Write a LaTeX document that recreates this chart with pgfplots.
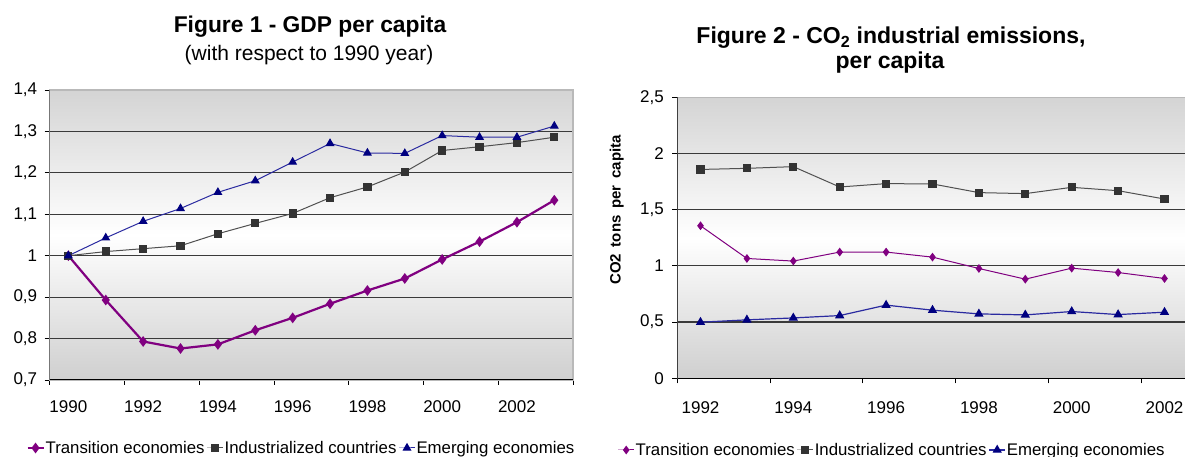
\documentclass[border=0pt]{standalone}
\usepackage{fontspec}
\setmainfont{Liberation Sans}
\usepackage{pgfplots}
\pgfplotsset{compat=1.18}
\definecolor{trans}{HTML}{800080}
\definecolor{indm}{HTML}{333333}
\definecolor{indl}{HTML}{505050}
\definecolor{emm}{HTML}{000080}
\definecolor{eml}{HTML}{2A2AA0}
\definecolor{bgtop}{HTML}{D4D4D4}
\definecolor{bgbot}{HTML}{CFCFCF}
\definecolor{gridc}{HTML}{3A3A3A}
\pgfplotsset{
  mystyle/.style={
    scale only axis, anchor=south west,
    axis line style={draw=gray!55, line width=1.4pt},
    axis background/.style={top color=bgtop, bottom color=bgbot, middle color=white},
    xtick pos=bottom, ytick pos=left, tick align=outside,
    major tick length=5pt,
    tick style={black, line width=0.9pt},
    ymajorgrids, major grid style={gridc, line width=1.2pt},
    tick label style={font=\fontsize{17}{19}\selectfont},
    /pgf/number format/assume math mode=true,
    yticklabel style={/pgf/number format/fixed, /pgf/number format/use comma, /pgf/number format/precision=1},
    legend style={draw=none, fill=none, legend columns=3, font=\fontsize{16.8}{19}\selectfont,
      anchor=center, inner sep=0pt, /tikz/every even column/.append style={column sep=1pt},
      nodes={inner sep=1pt}},
    legend image code/.code={\draw[mark repeat=2,mark phase=2] plot coordinates {(0pt,0pt)(8pt,0pt)(16pt,0pt)};},
  },
  ser trans/.style={trans, mark=diamond*, mark size=3.6pt, mark options={solid, fill=trans}},
  ser ind/.style={indl, line width=1pt, mark=square*, mark size=3.6pt, mark options={solid, draw=indm, fill=indm}},
  ser em/.style={eml, line width=1pt, mark=triangle*, mark size=4.2pt, mark options={solid, draw=emm, fill=emm}},
}
\begin{document}
\begin{tikzpicture}[x=1pt,y=1pt]
\useasboundingbox (0,0) rectangle (1185,457);
% Titles
\node[anchor=base, font=\fontsize{22.8}{24}\selectfont\bfseries] at (310,424) {Figure 1 - GDP per capita};
\node[anchor=base, font=\fontsize{21}{24}\selectfont] at (309,396) {(with respect to 1990 year)};
\node[anchor=base, font=\fontsize{23}{24}\selectfont\bfseries] at (891,413) {Figure 2 - CO\textsubscript{2} industrial emissions,};
\node[anchor=base, font=\fontsize{23}{24}\selectfont\bfseries] at (890,388) {per capita};
\node[rotate=90, font=\fontsize{15}{16}\selectfont\bfseries] at (616.7,247) {CO2\hspace{0.45em}tons\hspace{0.45em}per\hspace{0.45em}capita};

\begin{axis}[mystyle,
  at={(49.7pt,77pt)}, width=523.3pt, height=290pt,
  xmin=1989.5, xmax=2003.5, ymin=0.7, ymax=1.4,
  xtick={1989.5,1991.5,1993.5,1995.5,1997.5,1999.5,2001.5,2003.5},
  xticklabels={1990,1992,1994,1996,1998,2000,2002,},
  xticklabel style={xshift=18.7pt, yshift=-12pt},
  ytick={0.7,0.8,0.9,1.0,1.1,1.2,1.3,1.4},
  yticklabel style={xshift=-4pt},
  legend style={at={(axis description cs:0.48,0)}, yshift=-68pt},
]
\addplot[ser trans, line width=2.2pt] coordinates {
(1990,1.000)(1991,0.893)(1992,0.793)(1993,0.776)(1994,0.786)(1995,0.820)(1996,0.850)
(1997,0.884)(1998,0.916)(1999,0.945)(2000,0.991)(2001,1.034)(2002,1.081)(2003,1.134)};
\addlegendentry{Transition economies}
\addplot[ser ind] coordinates {
(1990,1.000)(1991,1.010)(1992,1.017)(1993,1.024)(1994,1.053)(1995,1.078)(1996,1.102)
(1997,1.140)(1998,1.166)(1999,1.202)(2000,1.254)(2001,1.263)(2002,1.273)(2003,1.286)};
\addlegendentry{Industrialized countries}
\addplot[ser em] coordinates {
(1990,1.000)(1991,1.043)(1992,1.083)(1993,1.114)(1994,1.153)(1995,1.181)(1996,1.226)
(1997,1.271)(1998,1.248)(1999,1.247)(2000,1.290)(2001,1.286)(2002,1.286)(2003,1.313)};
\addlegendentry{Emerging economies}
\draw[black, line width=1.4pt] (rel axis cs:0,1) -- (rel axis cs:0,0) -- (rel axis cs:1,0);
\end{axis}

\begin{axis}[mystyle,
  at={(677.3pt,78.7pt)}, width=510.4pt, height=281pt,
  xmin=1991.5, xmax=2002.5, ymin=0, ymax=2.5,
  xtick={1991.5,1993.5,1995.5,1997.5,1999.5,2001.5},
  xticklabels={1992,1994,1996,1998,2000,2002},
  xticklabel style={xshift=23.2pt, yshift=-15pt},
  ytick={0,0.5,1,1.5,2,2.5},
  yticklabel style={xshift=-5pt},
  legend style={at={(axis description cs:0.42,0)}, yshift=-71.7pt},
]
\addplot[ser trans, line width=1pt] coordinates {
(1992,1.357)(1993,1.066)(1994,1.043)(1995,1.123)(1996,1.123)(1997,1.078)
(1998,0.977)(1999,0.882)(2000,0.980)(2001,0.941)(2002,0.888)};
\addlegendentry{Transition economies}
\addplot[ser ind] coordinates {
(1992,1.858)(1993,1.868)(1994,1.883)(1995,1.702)(1996,1.732)(1997,1.729)
(1998,1.652)(1999,1.643)(2000,1.699)(2001,1.669)(2002,1.595)};
\addlegendentry{Industrialized countries}
\addplot[ser em, line width=1.2pt] coordinates {
(1992,0.499)(1993,0.520)(1994,0.537)(1995,0.558)(1996,0.651)(1997,0.606)
(1998,0.573)(1999,0.564)(2000,0.594)(2001,0.567)(2002,0.588)};
\addlegendentry{Emerging economies}
\draw[black, line width=1.4pt] (rel axis cs:0,1) -- (rel axis cs:0,0) -- (rel axis cs:1,0);
\end{axis}
\end{tikzpicture}
\end{document}
